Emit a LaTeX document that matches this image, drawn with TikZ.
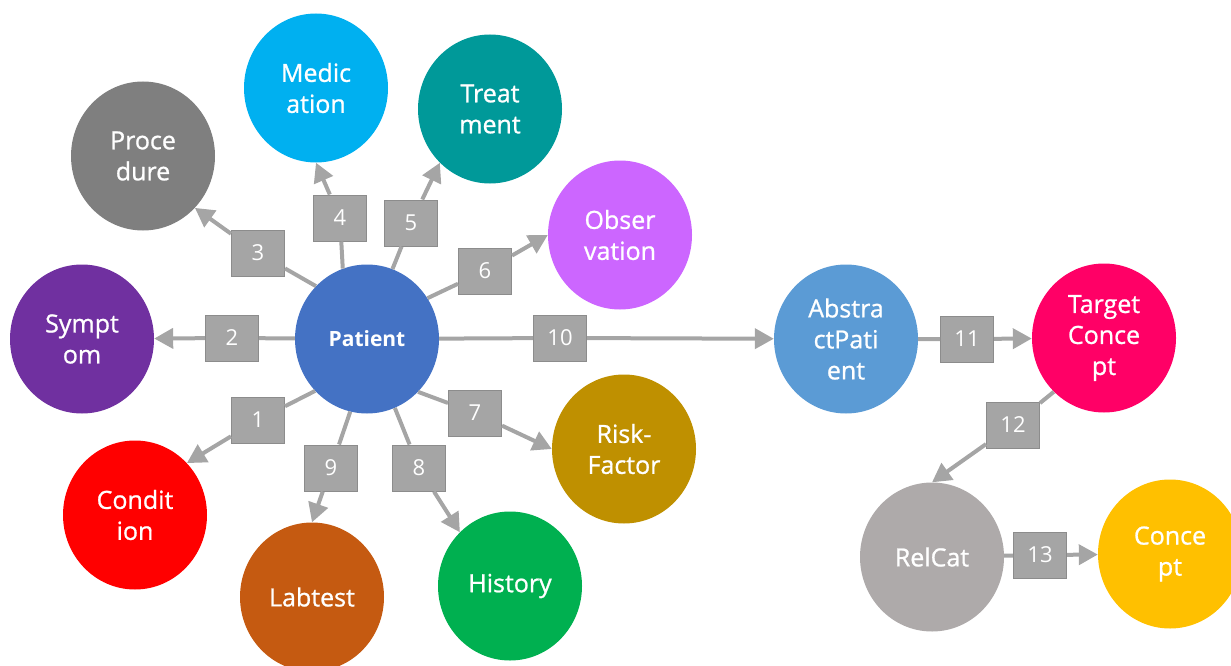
\documentclass[tikz,border=0pt]{standalone}
\usepackage{fontspec}
\setmainfont{Open Sans}
\newfontfamily\conceptfont{Open Sans}[FakeBold=0.9]
\usetikzlibrary{arrows.meta,shapes.geometric}

% Node colours
\definecolor{patblue}{HTML}{4472C4}
\definecolor{sympurple}{HTML}{7030A0}
\definecolor{procgray}{HTML}{7F7F7F}
\definecolor{medblue}{HTML}{00B0F0}
\definecolor{treatteal}{HTML}{009999}
\definecolor{obsviolet}{HTML}{CC66FF}
\definecolor{riskgold}{HTML}{BF9000}
\definecolor{histgreen}{HTML}{00B050}
\definecolor{laborange}{HTML}{C55A11}
\definecolor{condred}{HTML}{FF0000}
\definecolor{absblue}{HTML}{5B9BD5}
\definecolor{tgtpink}{HTML}{FF0066}
\definecolor{relgray}{HTML}{AEAAAA}
\definecolor{conyellow}{HTML}{FFC000}
\definecolor{boxgray}{HTML}{A5A5A5}
\definecolor{boxedge}{HTML}{8C8C8C}

\tikzset{
  concept/.style={ellipse, minimum width=144pt, minimum height=149pt,
    inner sep=0pt, text=white, align=center,
    font=\conceptfont\fontsize{25}{31}\selectfont},
  relbox/.style={draw=boxedge, line width=1pt, fill=boxgray,
    minimum width=53pt, minimum height=46pt, inner sep=0pt,
    text=white, font=\fontsize{22}{26}\selectfont},
  link/.style={draw=boxgray, line width=4pt,
    -{Triangle[length=19pt,width=20pt]}}
}

\begin{document}
\begin{tikzpicture}[x=1pt,y=-1pt]

  % Fix the page to the reference size
  \useasboundingbox (0,0) rectangle (1231,666);

  % The central patient node
  \node[concept, fill=patblue, font=\fontsize{21}{26}\selectfont\bfseries] (pat) at (367,339) {Patient};

  % Concepts round the patient
  \node[concept, fill=sympurple] (sym) at (82,339) {Sympt\\om};
  \node[concept, fill=procgray] (proc) at (143,156) {Proce\\dure};
  \node[concept, fill=medblue] (med) at (316,88) {Medic\\ation};
  \node[concept, fill=treatteal] (treat) at (490,109) {Treat\\ment};
  \node[concept, fill=obsviolet] (obs) at (620,235) {Obser\\vation};
  \node[concept, fill=riskgold] (risk) at (624,449) {Risk-\\Factor};
  \node[concept, fill=histgreen] (hist) at (510,586) {History};
  \node[concept, fill=laborange] (lab) at (312,597) {Labtest};
  \node[concept, fill=condred] (cond) at (135,515) {Condit\\ion};

  % The chain on the right
  \node[concept, fill=absblue] (abs) at (846,339) {Abstra\\ctPati\\ent};
  \node[concept, fill=tgtpink] (tgt) at (1104,338) {Target\\Conce\\pt};
  \node[concept, fill=relgray] (rel) at (932,557) {RelCat};
  \node[concept, fill=conyellow] (con) at (1170,554) {Conce\\pt};

  % Numbered relation boxes
  \node[relbox] (l1) at (258,420) {1};
  \node[relbox] (l2) at (232,338) {2};
  \node[relbox] (l3) at (258,253) {3};
  \node[relbox] (l4) at (340,218) {4};
  \node[relbox] (l5) at (411,223) {5};
  \node[relbox] (l6) at (485,271) {6};
  \node[relbox] (l7) at (475,413) {7};
  \node[relbox] (l8) at (419,468) {8};
  \node[relbox] (l9) at (331,468) {9};
  \node[relbox] (l10) at (560,338) {10};
  \node[relbox] (l11) at (967,339) {11};
  \node[relbox] (l12) at (1013,425) {12};
  \node[relbox] (l13) at (1040,555) {13};

  % Connectors through the boxes
  \draw[link] (pat.225) -- (l1) -- (cond.45);
  \draw[link] (pat) -- (l2) -- (sym);
  \draw[link] (pat.134) -- (l3) -- (proc.-45);
  \draw[link] (pat.109) -- (l4) -- (med.south);
  \draw[link] (pat.70) -- (l5) -- (treat.227);
  \draw[link] (pat.34) -- (l6) -- (obs.west);
  \draw[link] (pat.-46) -- (l7) -- (risk.west);
  \draw[link] (pat.-68) -- (l8) -- (hist.133);
  \draw[link] (pat.-103) -- (l9) -- (lab.north);
  \draw[link] (pat) -- (l10) -- (abs);
  \draw[link] (abs) -- (l11) -- (tgt);
  \draw[link] (tgt.227) -- (l12) -- (rel.north);
  \draw[link] (rel) -- (l13) -- (con);

\end{tikzpicture}
\end{document}
